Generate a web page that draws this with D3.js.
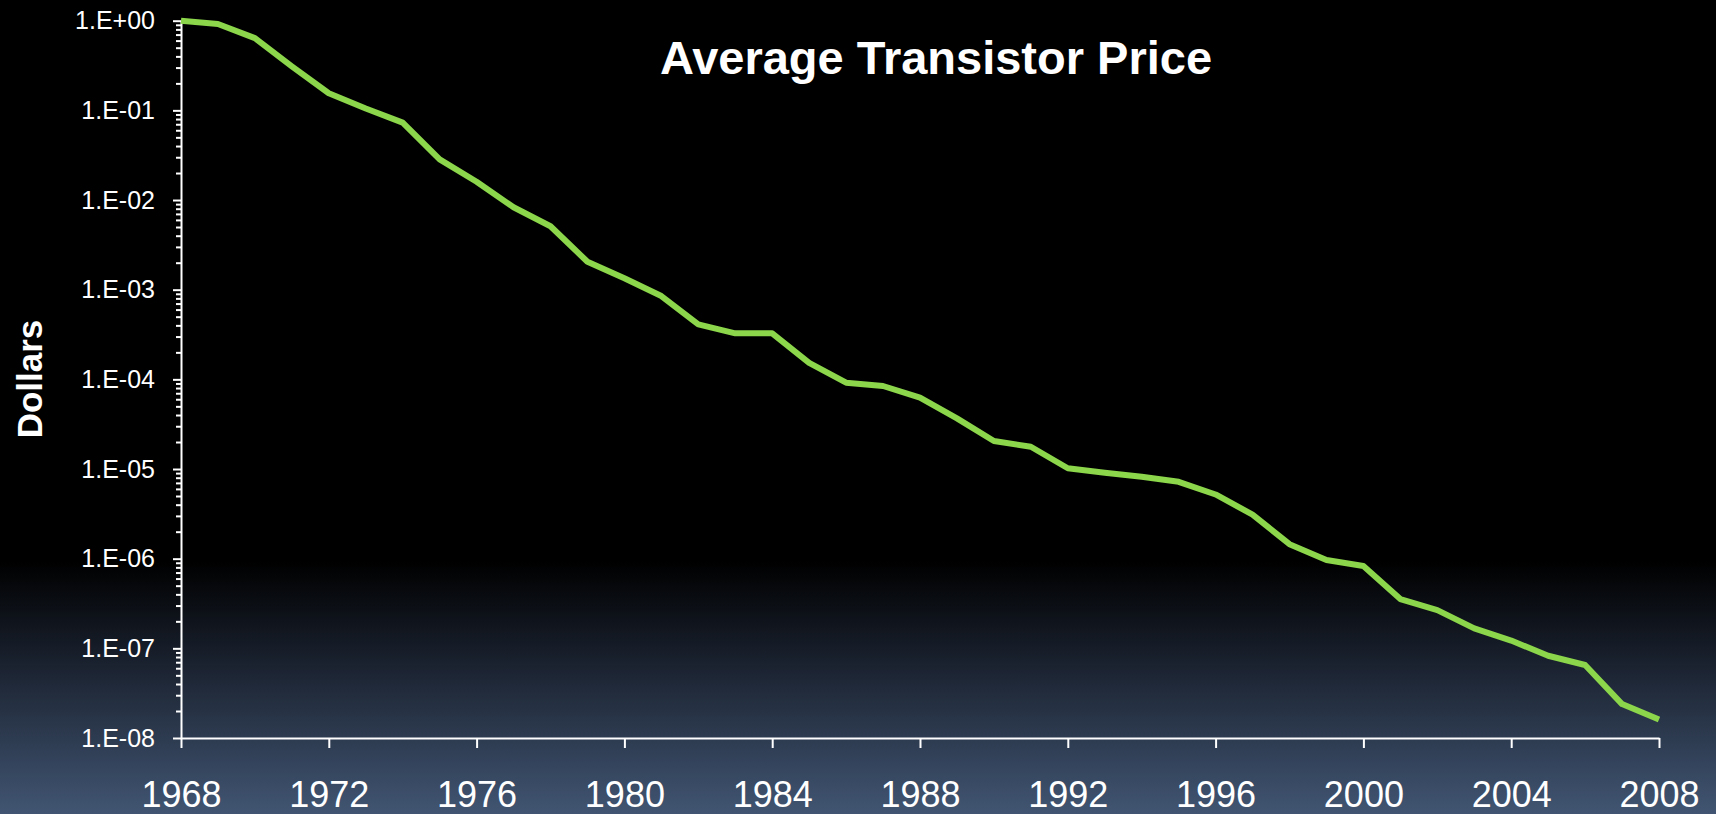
<!DOCTYPE html>
<html>
<head>
<meta charset="utf-8">
<script src="https://cdn.jsdelivr.net/npm/d3@7"></script>
<style>
	body { margin: 0; background: #000; }
	svg { display: block; }
</style>
</head>
<body>
<div id="main"></div>
<script>
// Datos del gráfico
var years = [1968, 1969, 1970, 1971, 1972, 1973, 1974, 1975, 1976, 1977,
	1978, 1979, 1980, 1981, 1982, 1983, 1984, 1985, 1986, 1987,
	1988, 1989, 1990, 1991, 1992, 1993, 1994, 1995, 1996, 1997,
	1998, 1999, 2000, 2001, 2002, 2003, 2004, 2005, 2006, 2007, 2008];
var prices = [1.0, 0.92, 0.64, 0.31, 0.155, 0.105, 0.073, 0.0284, 0.016, 0.0083,
	0.0051, 0.00205, 0.00134, 0.00085, 0.00041, 0.000326, 0.000326, 0.000153, 0.0000918, 0.0000843,
	0.0000624, 0.0000367, 0.0000205, 0.0000177, 0.0000102, 0.0000091, 0.0000082, 0.0000072, 0.0000052, 0.0000031,
	1.45e-6, 9.66e-7, 8.28e-7, 3.55e-7, 2.67e-7, 1.67e-7, 1.22e-7, 8.27e-8, 6.52e-8, 2.39e-8, 1.61e-8];
var xTicks = [1968, 1972, 1976, 1980, 1984, 1988, 1992, 1996, 2000, 2004, 2008];
var yTicks = [1, 1e-1, 1e-2, 1e-3, 1e-4, 1e-5, 1e-6, 1e-7, 1e-8];
var titleText = "Average Transistor Price";
var yLabelText = "Dollars";

// Constantes de dibujo
var totalWidth = 1716;
var totalHeight = 814;
var plotLeft = 181;
var plotRight = 1659;
var plotTop = 20.7;
var plotBottom = 738;
var fontFamily = "'Liberation Sans', Arial, sans-serif";

var svg = d3.select("#main").append("svg")
	.attr("width", totalWidth)
	.attr("height", totalHeight);

// Fondo: negro arriba, degradado azul pizarra abajo
var grad = svg.append("defs").append("linearGradient")
	.attr("id", "bg")
	.attr("x1", 0).attr("y1", 0)
	.attr("x2", 0).attr("y2", 1);
grad.append("stop").attr("offset", "0.69").attr("stop-color", "#000000");
grad.append("stop").attr("offset", "0.82").attr("stop-color", "#1b2331");
grad.append("stop").attr("offset", "1").attr("stop-color", "#415572");
svg.append("rect")
	.attr("width", totalWidth)
	.attr("height", totalHeight)
	.attr("fill", "url(#bg)");

var x = d3.scaleLinear().domain([1968, 2008]).range([plotLeft, plotRight]);
var y = d3.scaleLog().domain([1e-8, 1]).range([plotBottom, plotTop]);

function formatExp(v) {
	var e = Math.round(Math.log10(v));
	var s = e >= 0 ? "+" : "-";
	var a = Math.abs(e);
	return "1.E" + s + (a < 10 ? "0" + a : a);
}

// Marcas menores del eje Y
var minor = [];
yTicks.forEach(function(t) {
	if (t >= 1) return;
	for (var k = 2; k <= 9; k++) minor.push(t * k);
});

var gMinor = svg.append("g")
	.attr("transform", "translate(" + plotLeft + ",0)")
	.call(d3.axisLeft(y).tickValues(minor).tickSize(5).tickSizeOuter(0).tickFormat(""));
gMinor.select(".domain").remove();

var gy = svg.append("g")
	.attr("transform", "translate(" + plotLeft + ",0)")
	.call(d3.axisLeft(y).tickValues(yTicks).tickSize(8).tickSizeOuter(0).tickPadding(18).tickFormat(formatExp));

var gx = svg.append("g")
	.attr("transform", "translate(0," + plotBottom + ")")
	.call(d3.axisBottom(x).tickValues(xTicks).tickSize(10).tickSizeOuter(0).tickPadding(33).tickFormat(d3.format("d")));

svg.selectAll(".domain, .tick line")
	.attr("stroke", "#ffffff")
	.attr("stroke-width", 2);

gy.selectAll("text")
	.attr("fill", "#ffffff")
	.style("font-family", fontFamily)
	.style("font-size", "25px");

gx.selectAll("text")
	.attr("fill", "#ffffff")
	.style("font-family", fontFamily)
	.style("font-size", "36px");

// Línea de precios
var line = d3.line()
	.x(function(d, i) { return x(years[i]); })
	.y(function(d) { return y(d); });

svg.append("path")
	.datum(prices)
	.attr("d", line)
	.attr("fill", "none")
	.attr("stroke", "#8bd64a")
	.attr("stroke-width", 6)
	.attr("stroke-linejoin", "round");

// Título
svg.append("text")
	.attr("x", 936)
	.attr("y", 74)
	.attr("text-anchor", "middle")
	.attr("fill", "#ffffff")
	.style("font-family", fontFamily)
	.style("font-weight", "bold")
	.style("font-size", "47px")
	.text(titleText);

// Etiqueta del eje Y
svg.append("text")
	.attr("transform", "translate(42,379) rotate(-90)")
	.attr("text-anchor", "middle")
	.attr("fill", "#ffffff")
	.style("font-family", fontFamily)
	.style("font-weight", "bold")
	.style("font-size", "35px")
	.text(yLabelText);
</script>
</body>
</html>
